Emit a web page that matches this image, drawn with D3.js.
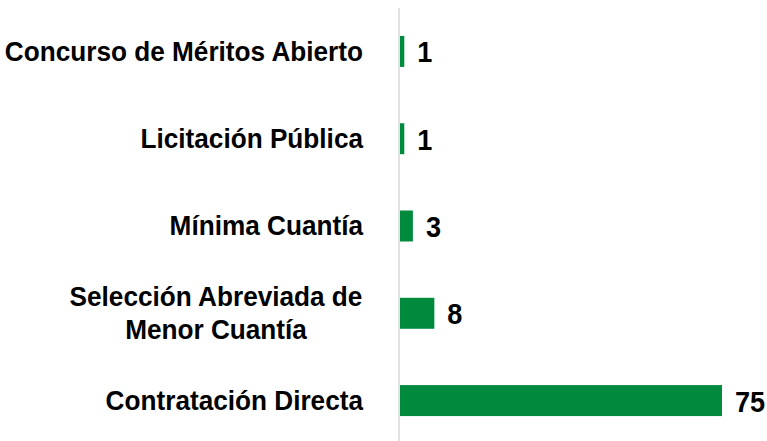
<!DOCTYPE html>
<html lang="es">
<head>
    <meta charset="UTF-8">
    <script src="https://d3js.org/d3.v7.min.js"></script>
    <title>Modalidades de contratación</title>
    <style>
        body { margin: 0; background: #fff; }
        text.cat, text.val {
            fill: #000;
            font-family: 'Liberation Sans', Arial, sans-serif;
            font-weight: bold;
            font-size: 28px;
        }
        text.val { font-size: 29px; }
    </style>
</head>
<body>
<svg height="441" width="767"></svg>
<script>
    const width = 767, height = 441;

    const categories = [
        ["Concurso de Méritos Abierto"],
        ["Licitación Pública"],
        ["Mínima Cuantía"],
        ["Selección Abreviada de", "Menor Cuantía"],
        ["Contratación Directa"]
    ];
    const values = [1, 1, 3, 8, 75];

    const narrow = 0.935;   // fake the condensed face
    const x0 = 400;
    const x = d3.scaleLinear().domain([0, 75]).range([x0, 722]);
    const y = d3.scaleBand().domain(d3.range(values.length)).range([8, 444]).paddingInner(0.645).paddingOuter(0.32);

    const svg = d3.select("svg");

    // vertical axis line
    svg.append("line")
        .attr("x1", x0 - 1).attr("x2", x0 - 1)
        .attr("y1", 8).attr("y2", height)
        .attr("stroke", "#d9d9d9").attr("stroke-width", 1.5);

    svg.selectAll("rect.bar").data(values).enter().append("rect")
        .attr("class", "bar")
        .attr("x", x0)
        .attr("y", (d, i) => y(i))
        .attr("width", d => x(d) - x0)
        .attr("height", y.bandwidth())
        .attr("fill", "#008a3e");

    svg.selectAll("text.val").data(values).enter().append("text")
        .attr("class", "val")
        .attr("transform", (d, i) =>
            `translate(${x(d) + 13},${y(i) + y.bandwidth() / 2}) scale(${narrow},1)`)
        .attr("dy", "0.38em")
        .text(d => d);

    const lineH = 33;
    svg.selectAll("text.cat").data(categories).enter().append("text")
        .attr("class", "cat")
        .attr("text-anchor", d => d.length > 1 ? "middle" : "end")
        .attr("transform", (d, i) =>
            `translate(${d.length > 1 ? 216 : 363},${y(i) + y.bandwidth() / 2}) scale(${narrow},1)`)
        .each(function (d) {
            const t = d3.select(this);
            d.forEach((line, j) => {
                t.append("tspan")
                    .attr("x", 0)
                    .attr("y", j === 0 ? -(d.length - 1) * lineH / 2 : null)
                    .attr("dy", j === 0 ? "0.33em" : lineH + "px")
                    .text(line);
            });
        });
</script>
</body>
</html>
